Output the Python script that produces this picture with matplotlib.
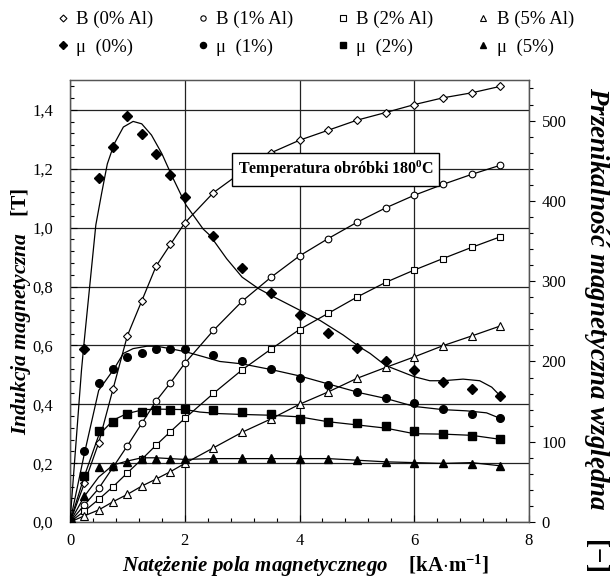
import numpy as np
import matplotlib
matplotlib.use('Agg')
from matplotlib import pyplot as plt
from matplotlib.ticker import MultipleLocator, FuncFormatter

plt.rcParams['font.family'] = ['Liberation Serif', 'DejaVu Serif']
plt.rcParams['mathtext.fontset'] = 'custom'
plt.rcParams['mathtext.rm'] = 'Liberation Serif'
plt.rcParams['mathtext.it'] = 'Liberation Serif:italic:bold'
plt.rcParams['mathtext.bf'] = 'Liberation Serif:bold'

# field strength H [kA/m]
H = [0, 0.25, 0.5, 0.75, 1.0, 1.25, 1.5, 1.75, 2.0, 2.5, 3.0, 3.5, 4.0, 4.5, 5.0, 5.5, 6.0, 6.5, 7.0, 7.5]

# induction B [T]
B_0 = [0, 0.131, 0.269, 0.452, 0.633, 0.751, 0.869, 0.943, 1.016, 1.119, 1.19, 1.254, 1.297, 1.331, 1.365, 1.391, 1.418, 1.441, 1.458, 1.480]
B_1 = [0, 0.058, 0.114, 0.186, 0.259, 0.335, 0.411, 0.473, 0.539, 0.651, 0.750, 0.831, 0.904, 0.963, 1.018, 1.067, 1.110, 1.147, 1.181, 1.212]
B_2 = [0, 0.037, 0.077, 0.120, 0.167, 0.213, 0.261, 0.307, 0.352, 0.437, 0.517, 0.587, 0.654, 0.709, 0.764, 0.814, 0.856, 0.895, 0.933, 0.969]
B_5 = [0, 0.021, 0.041, 0.069, 0.094, 0.122, 0.146, 0.171, 0.199, 0.252, 0.305, 0.350, 0.400, 0.442, 0.488, 0.525, 0.561, 0.599, 0.632, 0.666]

# relative permeability (measured points)
mu_0 = [0, 215, 428, 467, 506, 483, 459, 432, 405, 356, 317, 285, 258, 236, 217, 201, 189, 175, 166, 157]
mu_1 = [0, 88, 173, 190, 206, 211, 216, 215, 215, 208, 200, 191, 179, 171, 162, 155, 148, 141, 134, 129]
mu_2 = [0, 57, 114, 124, 134, 137, 139, 139, 141, 139, 137, 134, 128, 125, 123, 119, 114, 110, 107, 103]
mu_5 = [0, 32, 68, 70, 75, 78, 78, 79, 79, 80, 80, 80, 78, 78, 77, 75, 74, 73, 72, 70]

# fitted permeability curves
fit0_x = [0, 0.2, 0.25, 0.45, 0.55, 0.65, 0.77, 0.93, 1.1, 1.25, 1.42, 1.6, 1.77, 2.02, 2.32, 2.44, 2.73, 3.0, 3.28, 3.51, 4.0, 4.36, 4.76, 5.05, 5.23, 5.5, 6.0, 6.27, 6.5, 6.85, 7.14, 7.35, 7.5]
fit0_y = [0, 189, 227, 370, 409, 446, 471, 492, 499, 496, 482, 459, 432, 395, 365, 357, 328, 305, 291, 282, 264, 251, 233, 218, 210, 195, 181, 176, 176, 178, 176, 168, 157]
fit1_x = [0, 0.25, 0.5, 0.77, 0.93, 1.1, 1.34, 1.51, 1.74, 2.02, 2.32, 2.61, 3.0, 3.5, 4.0, 4.5, 5.05, 5.5, 6.0, 6.5, 6.91, 7.26, 7.5]
fit1_y = [0, 85, 164, 191, 210, 216, 219, 219, 216, 212, 206, 200, 197, 190, 182, 172, 161, 154, 144, 140, 138.5, 136, 129]
fit2_x = [0, 0.25, 0.5, 0.755, 0.99, 1.28, 1.57, 2.02, 2.26, 2.61, 3.0, 3.51, 4.0, 4.49, 5.0, 5.5, 6.0, 6.5, 7.0, 7.5]
fit2_y = [0, 57, 108, 127, 135, 140, 140.6, 140, 137, 135, 134, 133, 131, 125, 121, 117, 110, 109.5, 108, 103]
fit5_x = [0, 0.25, 0.5, 0.75, 1.0, 1.25, 1.5, 2.0, 2.5, 3.0, 3.5, 4.0, 4.5, 5.0, 5.5, 6.0, 6.5, 7.0, 7.5]
fit5_y = [0, 32, 56, 71, 76, 80, 80, 78, 79, 79, 79, 79, 79, 77, 75, 74, 73, 74, 70]

fig = plt.figure(figsize=(6.13, 5.81), dpi=100)
ax = fig.add_axes([0.1142, 0.1015, 0.7488, 0.76])
ax2 = ax.twinx()

lw = 0.9
# B curves, open markers
b_styles = [(B_0, 'D', 4.4, 'B (0% Al)'), (B_1, 'o', 4.8, 'B (1% Al)'),
            (B_2, 's', 4.6, 'B (2% Al)'), (B_5, '^', 5.2, 'B (5% Al)')]
hb = []
for vals, m, ms, lab in b_styles:
    ax.plot(H, vals, color='black', lw=lw, zorder=3)
    h, = ax.plot(H, vals, ls='none', marker=m, ms=ms, mfc='white', mec='black', mew=0.8, label=lab, zorder=4)
    hb.append(h)

# permeability, filled markers
mu_styles = [(mu_0, fit0_x, fit0_y, 'D', 5.2, '\u03bc  (0%)'), (mu_1, fit1_x, fit1_y, 'o', 5.5, '\u03bc  (1%)'),
             (mu_2, fit2_x, fit2_y, 's', 5.3, '\u03bc  (2%)'), (mu_5, fit5_x, fit5_y, '^', 6.0, '\u03bc  (5%)')]
hm = []
for vals, fx, fy, m, ms, lab in mu_styles:
    ax2.plot(fx, fy, color='black', lw=lw, zorder=3)
    h, = ax2.plot(H, vals, ls='none', marker=m, ms=ms, color='black', label=lab, zorder=4)
    hm.append(h)

ax.set_xlim(0, 8)
ax.set_ylim(0, 1.5)
ax2.set_ylim(0, 550)

ax.xaxis.set_major_locator(MultipleLocator(2))
ax.xaxis.set_minor_locator(MultipleLocator(0.4))
ax.yaxis.set_major_locator(MultipleLocator(0.2))
ax.yaxis.set_minor_locator(MultipleLocator(0.04))
ax.yaxis.set_major_formatter(FuncFormatter(lambda v, p: f'{v:.1f}'.replace('.', ',')))
ax2.yaxis.set_major_locator(MultipleLocator(100))
ax2.yaxis.set_minor_locator(MultipleLocator(20))
ax2.set_yticks([0, 100, 200, 300, 400, 500])

ax.tick_params(which='both', direction='in', labelsize=12, top=False, right=False)
ax.tick_params(which='major', length=5, width=0.8)
ax.tick_params(which='minor', length=3, width=0.8)
ax.tick_params(axis='x', pad=8)
ax.tick_params(axis='y', pad=12)
ax2.tick_params(which='both', direction='out', labelsize=12)
ax2.tick_params(which='major', length=4, width=0.8, pad=5)
ax2.tick_params(which='minor', length=3, width=0.8)

ax.grid(True, which='major', color='#222222', lw=0.9)
for sp in list(ax.spines.values()) + list(ax2.spines.values()):
    sp.set_linewidth(0.9)
    sp.set_color('#555555')

ax.set_xlabel(r'$\mathit{Natężenie\ pola\ magnetycznego}\ \ \ \ \mathbf{[kA}{\cdot}\mathbf{m}^{\mathbf{-1}}\mathbf{]}$',
              fontsize=15)
ax.xaxis.set_label_coords(0.514, -0.099)
ax.xaxis.label.set_va('center')
ax.set_ylabel(r'$\mathit{Indukcja\ magnetyczna}\ \ \ \mathbf{[T]}$', fontsize=15.5)
ax.yaxis.set_label_coords(-0.107, 0.477)
ax.yaxis.label.set_va('center')
ax2.set_ylabel(r'$\mathit{Przenikalność\ magnetyczna\ względna}\ \ \ \ \mathbf{[-]}$', fontsize=19.5,
               rotation=270)
ax2.yaxis.set_label_coords(1.146, 0.436)
ax2.yaxis.label.set_va('center')

ax2.text(4.63, 1.197, r'Temperatura obróbki 180$^{\mathbf{0}}$C', transform=ax.transData,
         fontsize=11.5, fontweight='bold', ha='center', va='center', zorder=10,
         bbox=dict(boxstyle='square,pad=0.35', fc='white', ec='black', lw=1))

handles = [hb[0], hm[0], hb[1], hm[1], hb[2], hm[2], hb[3], hm[3]]
fig.legend(handles=handles, labels=[h.get_label() for h in handles], ncol=4, loc='upper center',
           bbox_to_anchor=(0.515, 1.01), frameon=False, fontsize=13.5, handlelength=0.6,
           handletextpad=0.4, columnspacing=2.35, labelspacing=0.55, markerscale=0.8)

fig.savefig('out.png', dpi=100)
